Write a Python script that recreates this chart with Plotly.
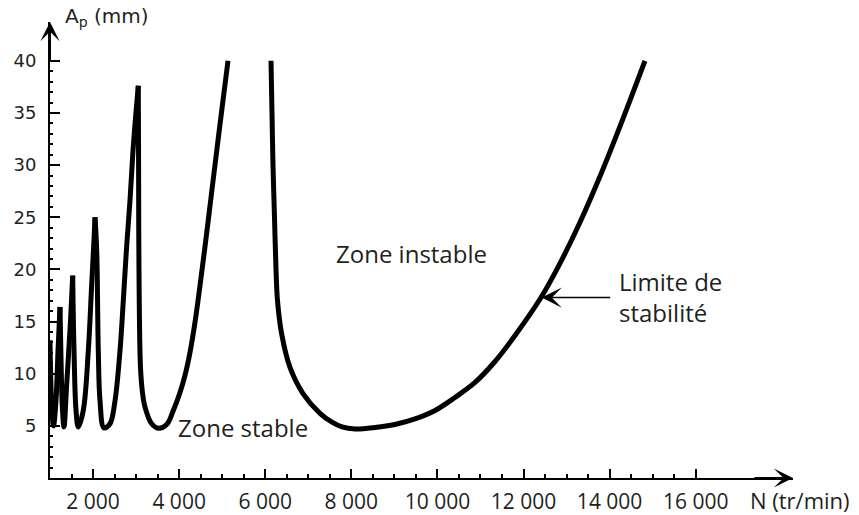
import plotly.graph_objects as go

# Stability lobes (spindle speed N in tr/min, depth Ap in mm), one list pair per lobe
lobe1_N = [1000, 1035, 1081, 1139, 1186, 1232]
lobe1_A = [13.2, 7.4, 5.0, 7.4, 12.2, 16.4]
lobe2_N = [1232, 1256, 1290, 1325, 1388, 1481, 1527]
lobe2_A = [16.4, 11.3, 6.5, 4.9, 9.0, 15.4, 19.4]
lobe3_N = [1527, 1558, 1604, 1657, 1774, 1890, 1969, 2029, 2045]
lobe3_A = [19.4, 12.2, 6.5, 4.9, 6.5, 12.2, 18.6, 23.4, 25.0]
lobe4_N = [2045, 2085, 2122, 2162, 2254, 2394, 2510, 2626, 2703, 2777, 2858, 2928, 2986, 3051]
lobe4_A = [25.0, 21.8, 12.2, 7.4, 4.8, 5.2, 7.4, 12.2, 17.0, 22.0, 26.6, 31.4, 34.5, 37.6]
lobe5_N = [3051, 3058, 3067, 3102, 3148, 3207, 3362, 3516, 3711, 3864, 4020, 4136,
           4252, 4368, 4485, 4624, 4763, 4949, 5135]
lobe5_A = [37.6, 30.0, 20.0, 10.6, 8.2, 6.8, 5.2, 4.77, 5.13, 6.47, 8.2, 9.83,
           12.03, 14.91, 18.46, 22.96, 27.66, 33.9, 40.0]
lobe6_N = [6134, 6157, 6180, 6215, 6250, 6285, 6382, 6575, 6877, 7272, 7551, 7783,
           8085, 8550, 9014, 9479, 9944, 10408, 10873, 11337, 11802, 12406, 12847,
           13312, 13777, 14241, 14821]
lobe6_A = [40.0, 35.0, 30.0, 25.0, 20.0, 17.0, 13.8, 10.6, 8.1, 6.2, 5.35, 4.9,
           4.7, 4.84, 5.13, 5.66, 6.47, 7.72, 9.16, 11.17, 13.66, 17.3, 20.58,
           24.52, 28.93, 33.72, 40.0]
lobes = [(lobe1_N, lobe1_A), (lobe2_N, lobe2_A), (lobe3_N, lobe3_A),
         (lobe4_N, lobe4_A), (lobe5_N, lobe5_A), (lobe6_N, lobe6_A)]

x_major = [2000, 4000, 6000, 8000, 10000, 12000, 14000, 16000]
x_labels = [f"{v:,}".replace(",", " ") for v in x_major]
x_minor = [v for v in range(1500, 16000, 500) if v not in x_major]
y_major = [5, 10, 15, 20, 25, 30, 35, 40]
y_minor = [v for v in range(1, 41) if v not in y_major]

INK = "#231f20"
SANS = "Open Sans"

fig = go.Figure()
for xs, ys in lobes:
    fig.add_trace(go.Scatter(x=xs, y=ys, mode="lines",
                             line=dict(color="black", width=5, shape="spline",
                                       smoothing=1.0),
                             hoverinfo="skip", showlegend=False))

fig.update_layout(
    width=859, height=515,
    margin=dict(l=50, r=66, t=22, b=37, autoexpand=False),
    paper_bgcolor="white", plot_bgcolor="white",
    showlegend=False,
)
fig.update_xaxes(
    range=[1000, 18260], showgrid=False, zeroline=False,
    showline=True, linecolor="black", linewidth=2,
    tickmode="array", tickvals=x_major, ticktext=x_labels,
    ticks="inside", ticklen=9, tickwidth=2, tickcolor="black",
    ticklabelstandoff=4,
    tickfont=dict(family=SANS, size=21, color=INK),
    minor=dict(tickmode="array", tickvals=x_minor, ticks="inside",
               ticklen=4, tickwidth=2, tickcolor="black", showgrid=False),
)
fig.update_yaxes(
    range=[0, 43.72], showgrid=False, zeroline=False,
    showline=True, linecolor="black", linewidth=2,
    tickmode="array", tickvals=y_major, ticktext=[str(v) for v in y_major],
    ticks="inside", ticklen=10, tickwidth=2, tickcolor="black",
    ticklabelstandoff=8,
    tickfont=dict(family="DejaVu Sans", size=18, color=INK),
    minor=dict(tickmode="array", tickvals=y_minor, ticks="inside",
               ticklen=3, tickwidth=2, tickcolor="black", showgrid=False),
)

# axis arrowheads
fig.add_annotation(xref="paper", yref="paper", x=1, y=0, ax=-40, ay=0,
                   text="", showarrow=True, arrowhead=3, arrowsize=1.6,
                   arrowwidth=2, arrowcolor="black")
fig.add_annotation(xref="paper", yref="paper", x=0, y=1, ax=0, ay=40,
                   text="", showarrow=True, arrowhead=3, arrowsize=1.6,
                   arrowwidth=2, arrowcolor="black")

# axis titles
fig.add_annotation(xref="paper", yref="paper", x=0.0175, y=1.011,
                   xanchor="left", yanchor="middle", showarrow=False,
                   text="A<sub>p</sub> (mm)",
                   font=dict(family="DejaVu Sans", size=20, color=INK))
fig.add_annotation(xref="paper", yref="paper", x=0.940, y=-0.048,
                   xanchor="left", yanchor="middle", showarrow=False,
                   text="N (tr/min)",
                   font=dict(family=SANS, size=22, color=INK))

# zone labels
fig.add_annotation(x=9398, y=21.5, xanchor="center", yanchor="middle",
                   showarrow=False, text="Zone instable",
                   font=dict(family=SANS, size=24, color=INK))
fig.add_annotation(x=5472, y=4.8, xanchor="center", yanchor="middle",
                   showarrow=False, text="Zone stable",
                   font=dict(family=SANS, size=24, color=INK))
fig.add_annotation(x=14170, y=17.4, xanchor="left", yanchor="middle",
                   showarrow=False, align="left", text="Limite de<br>stabilité",
                   font=dict(family=SANS, size=24, color=INK))
fig.add_annotation(x=12422, y=17.3, ax=70, ay=0, text="", showarrow=True,
                   arrowhead=3, arrowsize=2.1, arrowwidth=1.6, arrowcolor="black")

fig.write_html("out.html", config={"displayModeBar": False},
               post_script="document.body.style.margin='0';")
